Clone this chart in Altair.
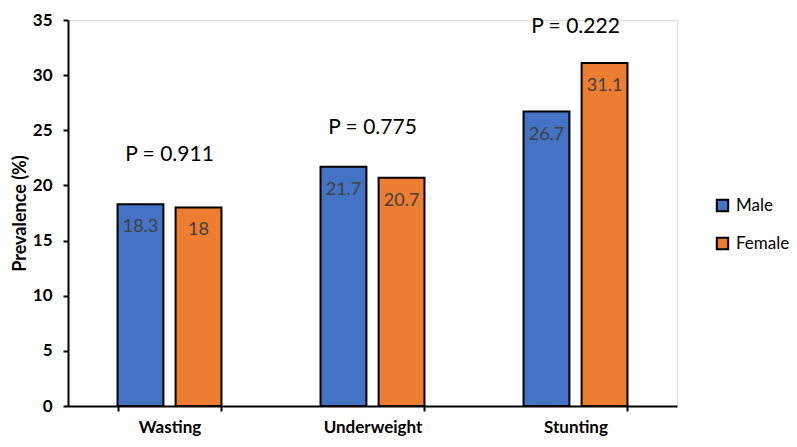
import altair as alt
import pandas as pd

categories = ["Wasting", "Underweight", "Stunting"]
sexes = ["Male", "Female"]
male_values = [18.3, 21.7, 26.7]
female_values = [18.0, 20.7, 31.1]
value_labels_male = ["18.3", "21.7", "26.7"]
value_labels_female = ["18", "20.7", "31.1"]
p_labels = ["P = 0.911", "P = 0.775", "P = 0.222"]
p_label_y = [22.76, 25.2, 34.36]

rows = []
for i, c in enumerate(categories):
    rows.append({"cat": c, "sex": "Male", "val": male_values[i], "lab": value_labels_male[i]})
    rows.append({"cat": c, "sex": "Female", "val": female_values[i], "lab": value_labels_female[i]})
df = pd.DataFrame(rows)
pdf = pd.DataFrame({"cat": categories, "p": p_labels, "y": p_label_y})

FONT = "Lato"

xscale = alt.Scale(domain=categories, paddingInner=0.488, paddingOuter=0.244)
yscale = alt.Scale(domain=[0, 35])
xoff = alt.XOffset("sex:N", sort=sexes, scale=alt.Scale(domain=sexes, paddingInner=0.21))

x_enc = alt.X(
    "cat:N", sort=categories, scale=xscale, title=None,
    axis=alt.Axis(labelAngle=0, labelFont=FONT, labelFontWeight="bold", labelFontSize=17,
                  labelColor="black", labelPadding=8, domainColor="black", domainWidth=2,
                  tickColor="black", tickWidth=2, tickSize=5, tickBand="extent"),
)
y_enc = alt.Y(
    "val:Q", scale=yscale, title="Prevalence (%)",
    axis=alt.Axis(values=[0, 5, 10, 15, 20, 25, 30, 35], grid=False, labelFont=FONT,
                  labelFontWeight="bold", labelFontSize=17, labelColor="black", labelPadding=11,
                  domainColor="black", domainWidth=2, tickColor="black", tickWidth=2, tickSize=5,
                  titleFont=FONT, titleFontWeight="bold", titleFontSize=18, titleColor="black",
                  titlePadding=3),
)

bars = alt.Chart(df).mark_bar(stroke="black", strokeWidth=2).encode(
    x=x_enc, xOffset=xoff, y=y_enc,
    color=alt.Color("sex:N", sort=sexes,
                    scale=alt.Scale(domain=sexes, range=["#4472C4", "#ED7D31"]),
                    legend=alt.Legend(title=None, orient="none", legendX=646, legendY=177,
                                      symbolType="square", symbolSize=130, symbolStrokeColor="black",
                                      symbolStrokeWidth=2, labelFont=FONT, labelFontSize=17,
                                      labelColor="black", rowPadding=17, labelOffset=5)),
)

vals = alt.Chart(df).mark_text(font=FONT, fontSize=18, color="#404040", baseline="middle", dy=23).encode(
    x=alt.X("cat:N", sort=categories, scale=xscale), xOffset=xoff,
    y=alt.Y("val:Q", scale=yscale), text="lab:N",
)

ptext = alt.Chart(pdf).mark_text(font=FONT, fontSize=21, color="black", baseline="middle").encode(
    x=alt.X("cat:N", sort=categories, scale=xscale),
    y=alt.Y("y:Q", scale=yscale), text="p:N",
)

chart = alt.layer(bars, vals, ptext).properties(
    width=609, height=386,
    autosize=alt.AutoSizeParams(type="none"),
    padding={"left": 60, "top": 12, "right": 112, "bottom": 33},
).configure_view(stroke=None).configure(background="white")

chart.save("out.html", embed_options={"renderer": "svg", "actions": False})
